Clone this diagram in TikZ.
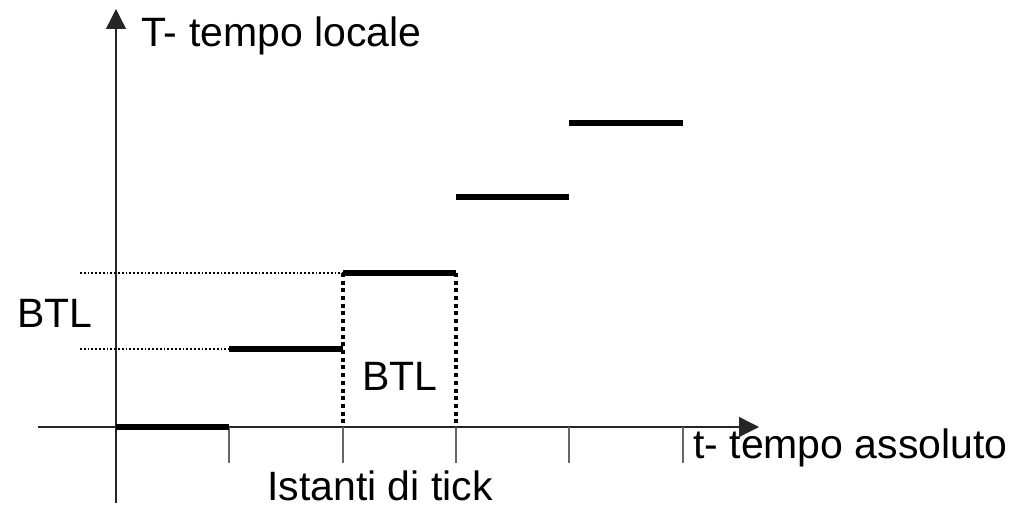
\documentclass[tikz,border=0pt]{standalone}
\usepackage{fontspec}
\setmainfont{Liberation Sans}
\usetikzlibrary{arrows.meta}
\begin{document}
\begin{tikzpicture}[x=1pt,y=-1pt,
  axis/.style={line width=1.4pt,draw=black!85,-{Triangle[length=20pt,width=20pt]}},
  tickline/.style={line width=1.4pt,draw=black!60},
  level/.style={line width=5.5pt,draw=black},
  guide/.style={line width=1.7pt,draw=black,dash pattern=on 1.7pt off 2.1pt},
  gap/.style={line width=4pt,draw=black,dash pattern=on 4pt off 3.7pt},
  lbl/.style={inner sep=0pt,anchor=base west,font=\fontsize{41}{48}\selectfont}]
\useasboundingbox (0,0) rectangle (1021,505);
% axes
\coordinate (o) at (116,427);
\coordinate (ybot) at (116,503);
\coordinate (ytop) at (116,9);
\coordinate (xleft) at (38,427);
\coordinate (xright) at (759,427);
\draw[axis] (ybot) -- (ytop);
\draw[axis] (xleft) -- (xright);
% tick instants on the absolute time axis
\foreach \n/\x in {1/229,2/343,3/456,4/569,5/683}{
  \coordinate (t\n) at (\x,427);
  \coordinate (b\n) at (\x,463);
  \draw[tickline] (t\n) -- (b\n);
}
% local time: constant between ticks
\coordinate (l0a) at (116,427); \coordinate (l0b) at (229,427);
\coordinate (l1a) at (229,349); \coordinate (l1b) at (343,349);
\coordinate (l2a) at (343,273); \coordinate (l2b) at (456,273);
\coordinate (l3a) at (456,197); \coordinate (l3b) at (569,197);
\coordinate (l4a) at (569,123); \coordinate (l4b) at (683,123);
\draw[level] (l0a) -- (l0b);
\draw[level] (l1a) -- (l1b);
\draw[level] (l2a) -- (l2b);
\draw[level] (l3a) -- (l3b);
\draw[level] (l4a) -- (l4b);
% guides to the vertical axis
\coordinate (g1) at (80,349);
\coordinate (g2) at (80,273);
\draw[guide] (g1) -- (l1a);
\draw[guide] (g2) -- (l2a);
% one tick interval
\draw[gap] (l2a) -- (t2);
\draw[gap] (l2b) -- (t3);
% labels
\node[lbl] (ylab) at (141,47) {T- tempo locale};
\node[lbl] (xlab) at (693,458) {t- tempo assoluto};
\node[lbl] (btl1) at (17,328) {BTL};
\node[lbl] (btl2) at (362,390) {BTL};
\node[lbl] (ticks) at (267,500) {Istanti di tick};
\end{tikzpicture}
\end{document}
